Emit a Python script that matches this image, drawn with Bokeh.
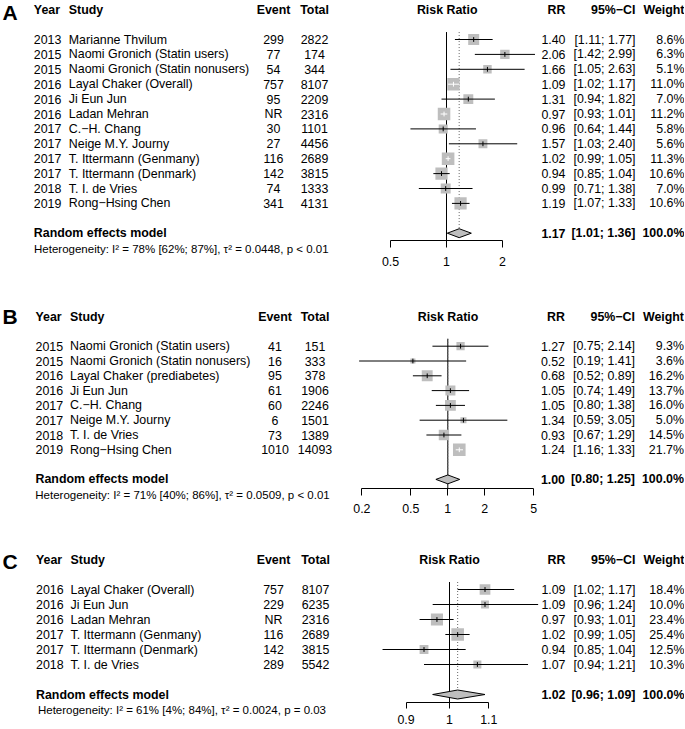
import math
from bokeh.plotting import figure
from bokeh.models import Range1d, LogScale, LogAxis, LinearAxis, FixedTicker, ColumnDataSource
from bokeh.layouts import column, row
from bokeh.embed import file_html
from bokeh.resources import INLINE
from bokeh.core.properties import value

FONT = "Liberation Sans"
SQ_COLOR = "#BEBEBE"
MINUS = "\u2212"

# ---------------- Panel A ----------------
A_year = [2013, 2015, 2015, 2016, 2016, 2016, 2017, 2017, 2017, 2017, 2018, 2019]
A_study = ["Marianne Thvilum", "Naomi Gronich (Statin users)", "Naomi Gronich (Statin nonusers)",
           "Layal Chaker (Overall)", "Ji Eun Jun", "Ladan Mehran", "C.\u2212H. Chang",
           "Neige M.Y. Journy", "T. Ittermann (Genmany)", "T. Ittermann (Denmark)",
           "T. I. de Vries", "Rong\u2212Hsing Chen"]
A_event = ["299", "77", "54", "757", "95", "NR", "30", "27", "116", "142", "74", "341"]
A_total = [2822, 174, 344, 8107, 2209, 2316, 1101, 4456, 2689, 3815, 1333, 4131]
A_rr = [1.40, 2.06, 1.66, 1.09, 1.31, 0.97, 0.96, 1.57, 1.02, 0.94, 0.99, 1.19]
A_lower = [1.11, 1.42, 1.05, 1.02, 0.94, 0.93, 0.64, 1.03, 0.99, 0.85, 0.71, 1.07]
A_upper = [1.77, 2.99, 2.63, 1.17, 1.82, 1.01, 1.44, 2.40, 1.05, 1.04, 1.38, 1.33]
A_weight = [8.6, 6.3, 5.1, 11.0, 7.0, 11.2, 5.8, 5.6, 11.3, 10.6, 7.0, 10.6]
A_pooled = [1.17, 1.01, 1.36]
A_het = "Heterogeneity: I\u00b2 = 78% [62%; 87%], \u03c4\u00b2 = 0.0448, p < 0.01"
A_ticks = [0.5, 1, 2]
A_tick_labels = ["0.5", "1", "2"]

# ---------------- Panel B ----------------
B_year = [2015, 2015, 2016, 2016, 2017, 2017, 2018, 2019]
B_study = ["Naomi Gronich (Statin users)", "Naomi Gronich (Statin nonusers)",
           "Layal Chaker (prediabetes)", "Ji Eun Jun", "C.\u2212H. Chang", "Neige M.Y. Journy",
           "T. I. de Vries", "Rong\u2212Hsing Chen"]
B_event = ["41", "16", "95", "61", "60", "6", "73", "1010"]
B_total = [151, 333, 378, 1906, 2246, 1501, 1389, 14093]
B_rr = [1.27, 0.52, 0.68, 1.05, 1.05, 1.34, 0.93, 1.24]
B_lower = [0.75, 0.19, 0.52, 0.74, 0.80, 0.59, 0.67, 1.16]
B_upper = [2.14, 1.41, 0.89, 1.49, 1.38, 3.05, 1.29, 1.33]
B_weight = [9.3, 3.6, 16.2, 13.7, 16.0, 5.0, 14.5, 21.7]
B_pooled = [1.00, 0.80, 1.25]
B_het = "Heterogeneity: I\u00b2 = 71% [40%; 86%], \u03c4\u00b2 = 0.0509, p < 0.01"
B_ticks = [0.2, 0.5, 1, 2, 5]
B_tick_labels = ["0.2", "0.5", "1", "2", "5"]

# ---------------- Panel C ----------------
C_year = [2016, 2016, 2016, 2017, 2017, 2018]
C_study = ["Layal Chaker (Overall)", "Ji Eun Jun", "Ladan Mehran", "T. Ittermann (Genmany)",
           "T. Ittermann (Denmark)", "T. I. de Vries"]
C_event = ["757", "229", "NR", "116", "142", "289"]
C_total = [8107, 6235, 2316, 2689, 3815, 5542]
C_rr = [1.09, 1.09, 0.97, 1.02, 0.94, 1.07]
C_lower = [1.02, 0.96, 0.93, 0.99, 0.85, 0.94]
C_upper = [1.17, 1.24, 1.01, 1.05, 1.04, 1.21]
C_weight = [18.4, 10.0, 23.4, 25.4, 12.5, 10.3]
C_pooled = [1.02, 0.96, 1.09]
C_het = "Heterogeneity: I\u00b2 = 61% [4%; 84%], \u03c4\u00b2 = 0.0024, p = 0.03"
C_ticks = [0.9, 1, 1.1]
C_tick_labels = ["0.9", "1", "1.1"]

POOLED_WEIGHT = "100.0%"

# ---------------- layout (page pixel space) ----------------
SPLIT = 342          # left table part | forest + right columns
XR = 684             # right edge
SQ_MAX = 12.6
FS = "12.4px"
FS_HET = "11.5px"
FS_LETTER = "21px"

LA = dict(top=0, bottom=298, axis=240, row0=39, row_h=14.9, c=446, k=80.79,
          tick=7, standoff=9, letter_y=12.3, het_cx=180.8, het_standoff=2,
          year_x=33.3, study_x=68.3, event_cx=273, total_cx=314, rr_cx=446.7,
          rr_right=565, ci_right=635, w_right=684)
LB = dict(top=298, bottom=535, axis=488, row0=345.7, row_h=14.8, c=447.3, k=53.4,
          tick=7, standoff=8, letter_y=315.5, het_cx=182, het_standoff=0,
          year_x=35, study_x=69.5, event_cx=274.5, total_cx=314.5, rr_cx=447.5,
          rr_right=564.5, ci_right=634.5, w_right=683.5)
LC = dict(top=535, bottom=728, axis=702, row0=589, row_h=15, c=449, k=412,
          tick=6, standoff=6, letter_y=560.5, het_cx=181.5, het_standoff=1,
          year_x=35.5, study_x=70, event_cx=273, total_cx=315, rr_cx=449,
          rr_right=565, ci_right=635, w_right=684)


def txt(p, x, y, text, align, bold=False, size=FS, source=None):
    kw = dict(text_font=value(FONT), text_font_size=size, text_align=align,
              text_baseline="middle", text_color="black",
              text_font_style="bold" if bold else "normal")
    if source is not None:
        p.text(x=x, y=y, text=text, source=source, **kw)
    else:
        p.text(x=x, y=y, text=text, **kw)


def base_fig(width, height, xr, yr, border_bottom):
    return figure(width=width, height=height, x_range=xr, y_range=yr,
                  x_axis_type=None, y_axis_type=None, toolbar_location=None,
                  output_backend="svg", min_border_left=0, min_border_right=0,
                  min_border_top=0, min_border_bottom=border_bottom,
                  outline_line_color=None, background_fill_color="white",
                  border_fill_color="white")


def build(letter, year, study, event, total, rr, lower, upper, weight, pooled, het,
          ticks, tick_labels, L):
    n = len(rr)
    r0, rh = L["row0"], L["row_h"]

    def to_row(ypix):
        return (ypix - r0) / rh

    y_top = to_row(L["top"])
    y_axis = to_row(L["axis"])
    height = L["bottom"] - L["top"]
    border = L["bottom"] - L["axis"]
    c, k = L["c"], L["k"]

    re_row = n + 1
    hy = -2
    rows = list(range(n))
    wmax = max(weight)
    sizes = [SQ_MAX * math.sqrt(wi / wmax) for wi in weight]
    ci_px = [k * math.log(u / l) for l, u in zip(lower, upper)]
    cols = ["white" if cp < s else "black" for cp, s in zip(ci_px, sizes)]

    src = ColumnDataSource(dict(
        row=rows, year=[str(v) for v in year], study=study, event=event,
        total=[str(v) for v in total], rr=rr, lo=lower, hi=upper,
        rr_txt=[f"{v:.2f}" for v in rr],
        ci_txt=[f"[{l:.2f}; {u:.2f}]" for l, u in zip(lower, upper)],
        w_txt=[f"{v:.1f}%" for v in weight],
        size=sizes, col=cols,
        t0=[r - 0.16 for r in rows], t1=[r + 0.16 for r in rows]))

    # ---------- left: study table ----------
    pl = base_fig(SPLIT, height, Range1d(0, SPLIT), Range1d(y_axis, y_top), border)
    txt(pl, [2], [to_row(L["letter_y"])], [letter], "left", bold=True, size=FS_LETTER)
    txt(pl, [L["year_x"], L["study_x"]], [hy, hy], ["Year", "Study"], "left", bold=True)
    txt(pl, [L["event_cx"], L["total_cx"]], [hy, hy], ["Event", "Total"], "center", bold=True)
    txt(pl, L["year_x"], "row", "year", "left", source=src)
    txt(pl, L["study_x"], "row", "study", "left", source=src)
    txt(pl, L["event_cx"], "row", "event", "center", source=src)
    txt(pl, L["total_cx"], "row", "total", "center", source=src)
    txt(pl, [L["year_x"]], [re_row], ["Random effects model"], "left", bold=True)
    # heterogeneity line: single label of an otherwise invisible bottom axis
    het_ax = LinearAxis(ticker=FixedTicker(ticks=[L["het_cx"]]),
                        major_label_overrides={L["het_cx"]: het},
                        axis_line_color=None, major_tick_line_color=None,
                        minor_tick_line_color=None, major_tick_out=0, major_tick_in=0,
                        minor_tick_out=0, minor_tick_in=0,
                        major_label_standoff=L["het_standoff"],
                        major_label_text_font=FONT, major_label_text_font_size=FS_HET,
                        major_label_text_font_style="normal", major_label_text_color="black")
    pl.add_layout(het_ax, "below")

    # ---------- right: forest + RR / CI / weight ----------
    pr = base_fig(XR - SPLIT, height, Range1d(SPLIT, XR), Range1d(y_axis, y_top), border)
    pr.extra_x_ranges = {"rr": Range1d(math.exp((SPLIT - c) / k), math.exp((XR - c) / k))}
    pr.extra_x_scales = {"rr": LogScale()}

    pr.segment(x0=[1], x1=[1], y0=[-0.5], y1=[y_axis], line_color="black", line_width=1,
               x_range_name="rr")
    pr.segment(x0=[pooled[0]], x1=[pooled[0]], y0=[-0.5], y1=[re_row - 0.3],
               line_color="#666666", line_width=1, line_dash="1 2", x_range_name="rr")
    pr.scatter(x="rr", y="row", size="size", marker="square", fill_color=SQ_COLOR,
               line_color=None, source=src, x_range_name="rr")
    pr.segment(x0="lo", x1="hi", y0="row", y1="row", line_color="col", line_width=1,
               source=src, x_range_name="rr")
    pr.segment(x0="rr", x1="rr", y0="t0", y1="t1", line_color="col", line_width=1,
               source=src, x_range_name="rr")
    pr.patch(x=[pooled[1], pooled[0], pooled[2], pooled[0]],
             y=[re_row, re_row - 0.3, re_row, re_row + 0.3],
             fill_color=SQ_COLOR, line_color="black", line_width=1, x_range_name="rr")

    txt(pr, [L["rr_cx"]], [hy], ["Risk Ratio"], "center", bold=True)
    txt(pr, [L["rr_right"], L["ci_right"], L["w_right"]], [hy] * 3,
        ["RR", "95%" + MINUS + "CI", "Weight"], "right", bold=True)
    txt(pr, L["rr_right"], "row", "rr_txt", "right", source=src)
    txt(pr, L["ci_right"], "row", "ci_txt", "right", source=src)
    txt(pr, L["w_right"], "row", "w_txt", "right", source=src)
    txt(pr, [L["rr_right"], L["ci_right"], L["w_right"]], [re_row] * 3,
        [f"{pooled[0]:.2f}", f"[{pooled[1]:.2f}; {pooled[2]:.2f}]", POOLED_WEIGHT],
        "right", bold=True)

    ax = LogAxis(x_range_name="rr", ticker=FixedTicker(ticks=ticks),
                 bounds=(min(ticks), max(ticks)),
                 major_label_overrides={t: s for t, s in zip(ticks, tick_labels)},
                 major_tick_in=0, major_tick_out=L["tick"], minor_tick_in=0, minor_tick_out=0,
                 major_label_standoff=L["standoff"], major_label_text_font=FONT,
                 major_label_text_font_size=FS, major_label_text_color="black",
                 axis_line_color="black", major_tick_line_color="black")
    pr.add_layout(ax, "below")
    return row(pl, pr, spacing=0)


rA = build("A", A_year, A_study, A_event, A_total, A_rr, A_lower, A_upper, A_weight,
           A_pooled, A_het, A_ticks, A_tick_labels, LA)
rB = build("B", B_year, B_study, B_event, B_total, B_rr, B_lower, B_upper, B_weight,
           B_pooled, B_het, B_ticks, B_tick_labels, LB)
rC = build("C", C_year, C_study, C_event, C_total, C_rr, C_lower, C_upper, C_weight,
           C_pooled, C_het, C_ticks, C_tick_labels, LC)

layout = column(rA, rB, rC, spacing=0)
open("out.html", "w").write(file_html(layout, INLINE))
